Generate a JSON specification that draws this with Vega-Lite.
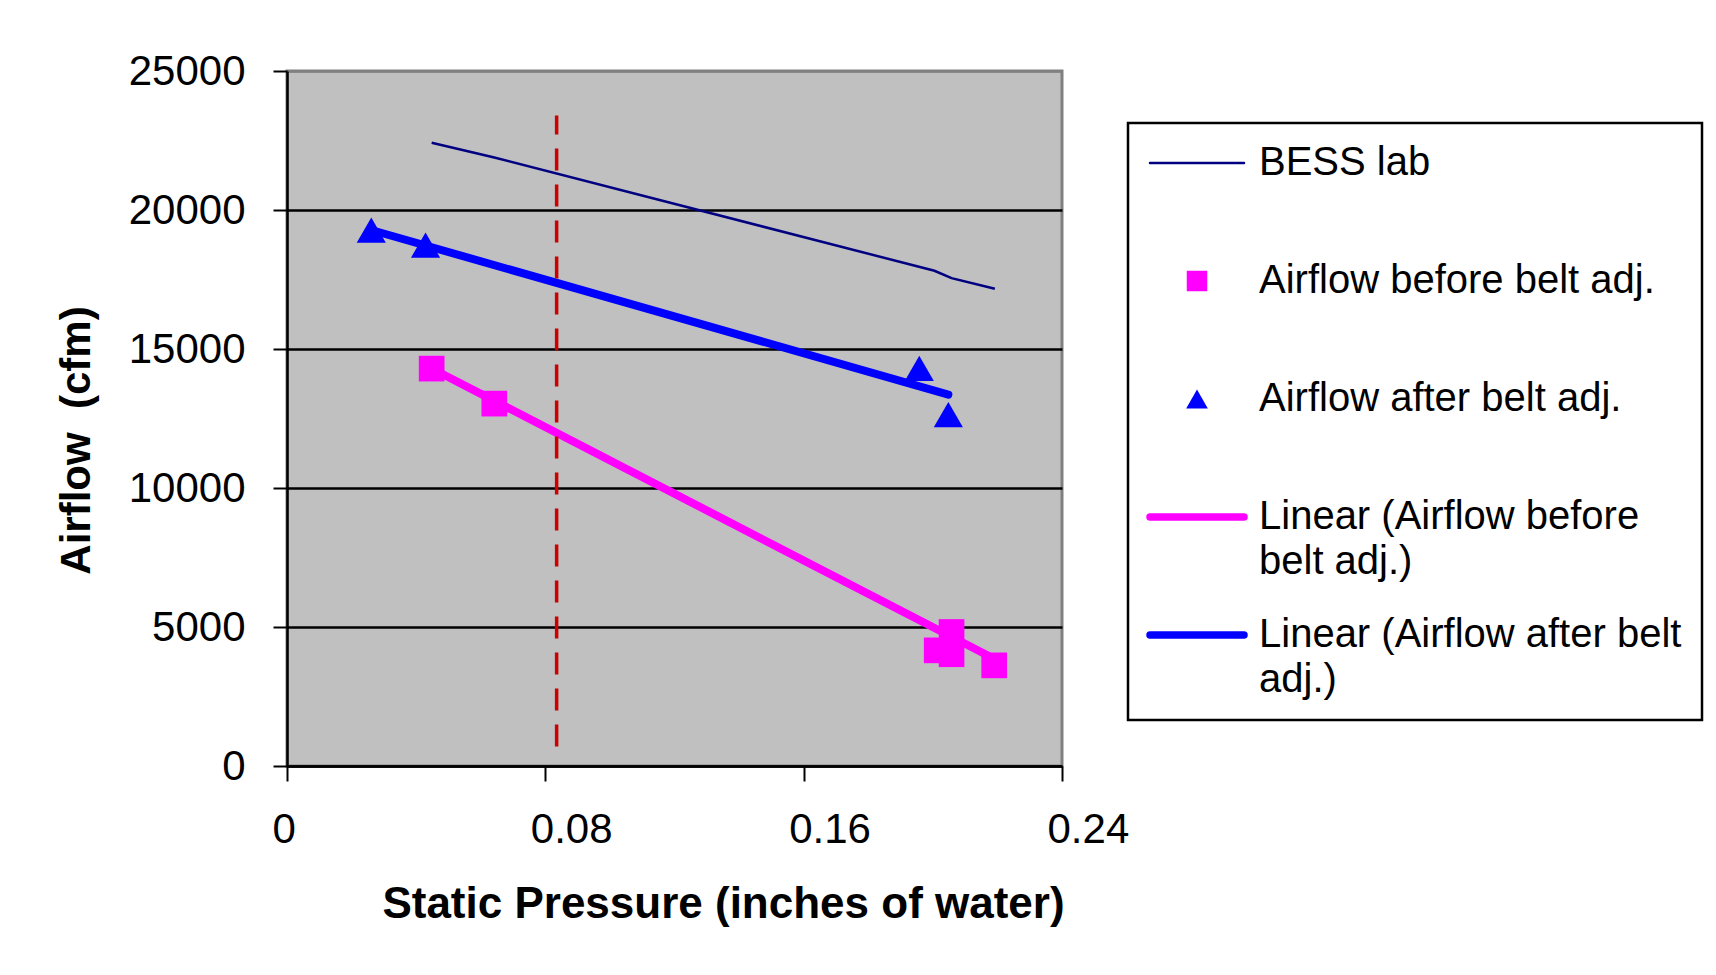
{
  "$schema": "https://vega.github.io/schema/vega-lite/v6.json",
  "width": 775,
  "height": 695,
  "autosize": {"type": "none"},
  "padding": {"left": 287, "top": 71, "right": 654, "bottom": 209},
  "background": "white",
  "config": {
    "font": "Liberation Sans",
    "view": {"fill": "#C0C0C0", "stroke": "#808080", "strokeWidth": 3}
  },
  "datasets": {
    "bess": [
      {"series": "BESS lab", "pressure": 0.0448, "airflow": 22420},
      {"series": "BESS lab", "pressure": 0.0642, "airflow": 21890},
      {"series": "BESS lab", "pressure": 0.2005, "airflow": 17815},
      {"series": "BESS lab", "pressure": 0.2058, "airflow": 17550},
      {"series": "BESS lab", "pressure": 0.2192, "airflow": 17165}
    ],
    "before": [
      {"series": "Airflow before belt adj.", "pressure": 0.0448, "airflow": 14295},
      {"series": "Airflow before belt adj.", "pressure": 0.0642, "airflow": 13035},
      {"series": "Airflow before belt adj.", "pressure": 0.2012, "airflow": 4160},
      {"series": "Airflow before belt adj.", "pressure": 0.2058, "airflow": 4820},
      {"series": "Airflow before belt adj.", "pressure": 0.2058, "airflow": 4020},
      {"series": "Airflow before belt adj.", "pressure": 0.219, "airflow": 3620}
    ],
    "after": [
      {"series": "Airflow after belt adj.", "pressure": 0.0261, "airflow": 19280},
      {"series": "Airflow after belt adj.", "pressure": 0.0429, "airflow": 18740},
      {"series": "Airflow after belt adj.", "pressure": 0.1958, "airflow": 14300},
      {"series": "Airflow after belt adj.", "pressure": 0.2048, "airflow": 12640}
    ],
    "trend_before": [
      {"series": "Linear (Airflow before belt adj.)", "pressure": 0.0448, "airflow": 14300},
      {"series": "Linear (Airflow before belt adj.)", "pressure": 0.219, "airflow": 3860}
    ],
    "trend_after": [
      {"series": "Linear (Airflow after belt adj.)", "pressure": 0.0261, "airflow": 19280},
      {"series": "Linear (Airflow after belt adj.)", "pressure": 0.2048, "airflow": 13360}
    ],
    "ref": [
      {"pressure": 0.0835, "airflow": 700, "to": 23400}
    ]
  },
  "encoding": {
    "x": {
      "field": "pressure",
      "type": "quantitative",
      "scale": {"domain": [0, 0.24], "nice": false, "zero": false},
      "axis": {
        "values": [0, 0.08, 0.16, 0.24],
        "labelExpr": "datum.value == 0 ? '0' : format(datum.value, '.2f')",
        "title": "Static Pressure (inches of water)",
        "titleFont": "Liberation Sans",
        "titleFontWeight": "bold",
        "titleFontSize": 44,
        "titleColor": "black",
        "titlePadding": 32,
        "titleX": 436,
        "labelFontSize": 42,
        "labelColor": "black",
        "labelPadding": 28,
        "labelAlign": "left",
        "labelOffset": -15,
        "labelFlush": false,
        "labelOverlap": false,
        "tickSize": 15,
        "tickColor": "black",
        "tickWidth": 2,
        "domainColor": "black",
        "domainWidth": 2.5,
        "grid": false
      }
    },
    "y": {
      "field": "airflow",
      "type": "quantitative",
      "scale": {"domain": [0, 25000], "nice": false},
      "axis": {
        "values": [0, 5000, 10000, 15000, 20000, 25000],
        "format": "d",
        "title": "Airflow \u00a0(cfm)",
        "titleFont": "Liberation Sans",
        "titleFontWeight": "bold",
        "titleFontSize": 42,
        "titleColor": "black",
        "titlePadding": 30,
        "titleY": 369,
        "labelFontSize": 42,
        "labelColor": "black",
        "labelPadding": 28,
        "labelOverlap": false,
        "tickSize": 14,
        "tickColor": "black",
        "tickWidth": 2,
        "domainColor": "black",
        "domainWidth": 2.5,
        "grid": true,
        "gridColor": {"condition": {"test": "datum.value == 25000", "value": "#808080"}, "value": "black"},
        "gridWidth": 2.5
      }
    },
    "color": {
      "field": "series",
      "type": "nominal",
      "scale": {
        "domain": ["BESS lab", "Airflow before belt adj.", "Airflow after belt adj.", "Linear (Airflow before belt adj.)", "Linear (Airflow after belt adj.)"],
        "range": ["#000080", "#FF00FF", "#0000FF", "#FF00FF", "#0000FF"]
      },
      "legend": {
        "orient": "none",
        "legendX": 841,
        "legendY": 52,
        "title": null,
        "strokeColor": "black",
        "fillColor": "white",
        "padding": 20,
        "symbolSize": 8836,
        "labelOffset": 71,
        "labelFont": "Liberation Sans",
        "labelFontSize": 40,
        "labelColor": "black",
        "labelLimit": 700,
        "gridAlign": "all",
        "rowPadding": 33,
        "labelExpr": "datum.label == 'Linear (Airflow before belt adj.)' ? ['Linear (Airflow before', 'belt adj.)'] : datum.label == 'Linear (Airflow after belt adj.)' ? ['Linear (Airflow after belt', 'adj.)'] : datum.label",
        "encode": {
          "legend": {"update": {"strokeWidth": {"value": 2.5}}},
          "labels": {"update": {"lineHeight": {"value": 45}}},
          "symbols": {
            "update": {
              "x": {"value": 49},
              "shape": {"signal": "datum.value == 'Airflow before belt adj.' ? 'square' : datum.value == 'Airflow after belt adj.' ? 'triangle-up' : 'stroke'"},
              "size": {"signal": "datum.value == 'Airflow before belt adj.' ? 420 : datum.value == 'Airflow after belt adj.' ? 470 : 8836"},
              "strokeWidth": {"signal": "datum.value == 'BESS lab' ? 2.5 : (datum.value == 'Airflow before belt adj.' || datum.value == 'Airflow after belt adj.') ? 0 : 7.5"},
              "strokeCap": {"value": "round"},
              "fill": {"scale": "color", "field": "value"},
              "stroke": {"scale": "color", "field": "value"},
              "opacity": {"value": 1},
              "fillOpacity": {"value": 1},
              "strokeOpacity": {"value": 1}
            }
          }
        }
      }
    }
  },
  "layer": [
    {"data": {"name": "bess"}, "mark": {"type": "line", "strokeWidth": 2.5}},
    {"data": {"name": "trend_before"}, "mark": {"type": "line", "strokeWidth": 8, "strokeCap": "round"}},
    {"data": {"name": "trend_after"}, "mark": {"type": "line", "strokeWidth": 8, "strokeCap": "round"}},
    {
      "data": {"name": "ref"},
      "mark": {"type": "rule", "strokeWidth": 3.5, "strokeDash": [22, 14]},
      "encoding": {"y2": {"field": "to"}, "color": {"value": "#CC0000"}}
    },
    {"data": {"name": "before"}, "mark": {"type": "point", "shape": "square", "filled": true, "size": 660, "opacity": 1}},
    {"data": {"name": "after"}, "mark": {"type": "point", "shape": "triangle-up", "filled": true, "size": 850, "opacity": 1}}
  ]
}
